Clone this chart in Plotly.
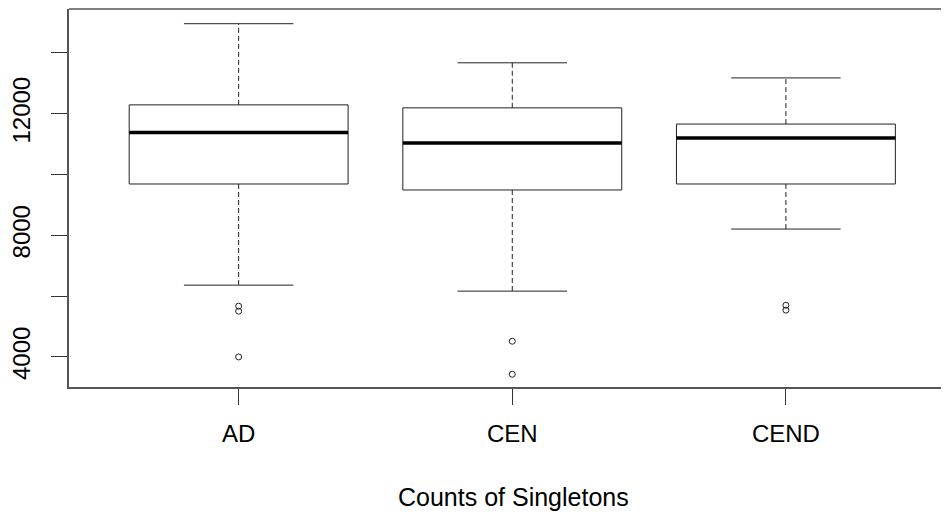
import plotly.graph_objects as go

categories = ["AD", "CEN", "CEND"]
lower_whisker = [6362, 6165, 8207]
q1 = [9690, 9493, 9690]
median = [11381, 11041, 11200]
q3 = [12293, 12195, 11662]
upper_whisker = [14963, 13677, 13180]
outliers = [[5670, 5505, 4000], [4517, 3430], [5700, 5540]]

y_tick_vals = [4000, 6000, 8000, 10000, 12000, 14000]
y_tick_text = ["4000", "", "8000", "", "12000", ""]

FONT = "Liberation Sans, Arial, sans-serif"
LINE = "#222222"
BOX_HALF = 0.4
CAP_HALF = 0.2

fig = go.Figure()

for i, cat in enumerate(categories):
    x = i + 1
    # box
    fig.add_trace(go.Scatter(
        x=[x - BOX_HALF, x + BOX_HALF, x + BOX_HALF, x - BOX_HALF, x - BOX_HALF],
        y=[q1[i], q1[i], q3[i], q3[i], q1[i]],
        mode="lines", line=dict(color=LINE, width=1), hoverinfo="skip", showlegend=False))
    # median
    fig.add_trace(go.Scatter(
        x=[x - BOX_HALF, x + BOX_HALF], y=[median[i], median[i]],
        mode="lines", line=dict(color="black", width=3.5), hoverinfo="skip", showlegend=False))
    # whiskers dashed
    fig.add_trace(go.Scatter(
        x=[x, x, None, x, x], y=[q3[i], upper_whisker[i], None, q1[i], lower_whisker[i]],
        mode="lines", line=dict(color=LINE, width=1, dash="5px,3px"), hoverinfo="skip", showlegend=False))
    # caps
    fig.add_trace(go.Scatter(
        x=[x - CAP_HALF, x + CAP_HALF, None, x - CAP_HALF, x + CAP_HALF],
        y=[upper_whisker[i], upper_whisker[i], None, lower_whisker[i], lower_whisker[i]],
        mode="lines", line=dict(color=LINE, width=1), hoverinfo="skip", showlegend=False))
    # outliers
    fig.add_trace(go.Scatter(
        x=[x] * len(outliers[i]), y=outliers[i], mode="markers",
        marker=dict(symbol="circle-open", size=6, color=LINE, line=dict(width=1)),
        hoverinfo="skip", showlegend=False))

fig.update_layout(
    width=941, height=509,
    margin=dict(l=61, r=0, t=1, b=130),
    paper_bgcolor="white", plot_bgcolor="white",
    font=dict(family=FONT, size=24, color="black"),
    xaxis=dict(
        range=[0.38, 3.596], tickmode="array", tickvals=[1, 2, 3], ticktext=categories,
        ticks="outside", ticklen=16, tickcolor="#333", tickwidth=1,
        showline=True, linecolor="#555", linewidth=1.5, showgrid=False, zeroline=False,
        ticklabelstandoff=8, tickfont=dict(size=24, family=FONT)),
    yaxis=dict(
        range=[3011, 15447], tickmode="array", tickvals=y_tick_vals, ticktext=y_tick_text,
        ticks="outside", ticklen=16, tickcolor="#333", tickwidth=1, tickangle=-90,
        showline=True, linecolor="#555", linewidth=1.5, showgrid=False, zeroline=False,
        ticklabelstandoff=12, tickfont=dict(size=24, family=FONT)),
    shapes=[dict(type="line", xref="paper", yref="paper", x0=0, x1=1, y0=1, y1=1,
                 line=dict(color="#555", width=1.5))],
    annotations=[dict(text="Counts of Singletons", xref="paper", yref="paper",
                      x=(513 - 69) / 880, y=-110 / 378, xanchor="center", yanchor="middle",
                      showarrow=False, font=dict(size=25, family=FONT, color="black"))],
)

fig.write_html("out.html")
